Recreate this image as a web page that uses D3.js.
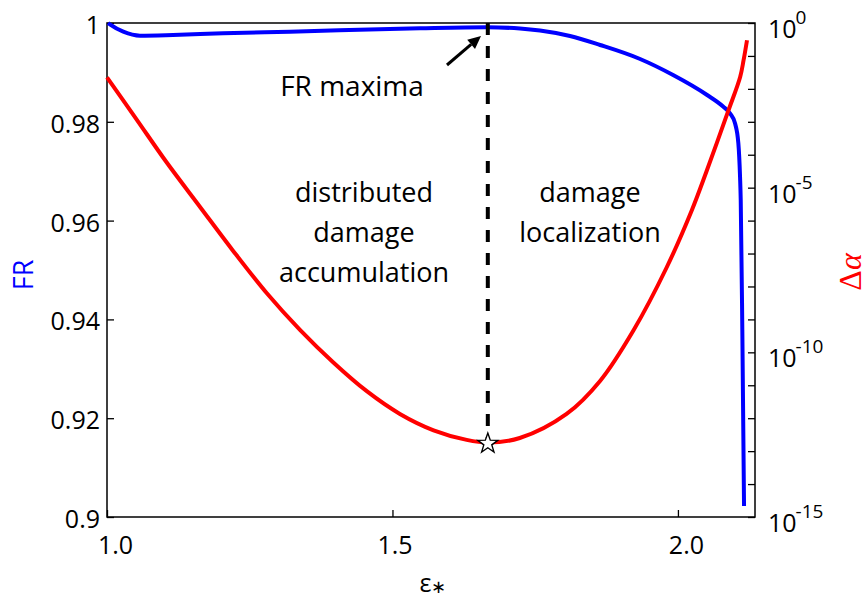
<!DOCTYPE html>
<html><head><meta charset="utf-8">
<script src="https://cdn.jsdelivr.net/npm/d3@7"></script>
<style>
html,body{margin:0;padding:0;background:#fff;}
svg{display:block;}
</style></head>
<body><svg id="c" width="868" height="598"></svg>
<script>
// ---- data ----
const xTicks = [1.0, 1.5, 2.0];
const xTickLabels = ["1.0", "1.5", "2.0"];
const frTicks = [0.9, 0.92, 0.94, 0.96, 0.98, 1.0];
const frTickLabels = ["0.9", "0.92", "0.94", "0.96", "0.98", "1"];
const daTicks = [1e0,1e-1,1e-2,1e-3,1e-4,1e-5,1e-6,1e-7,1e-8,1e-9,1e-10,1e-11,1e-12,1e-13,1e-14,1e-15];
const daLabelExps = [0, -5, -10, -15];

// FR (blue, left axis)
const epsFR = [1.002, 1.0065, 1.0285, 1.0578, 1.1156, 1.2032, 1.3205, 1.5483, 1.6656, 1.7234, 1.7584, 1.8110, 1.8636, 1.9337, 1.9915, 2.0511, 2.0791, 2.0912, 2.1000, 2.1058, 2.1088, 2.1100, 2.1128, 2.1158];
const frValues = [1.0000, 0.99960, 0.99824, 0.99743, 0.99757, 0.99792, 0.99824, 0.99893, 0.99913, 0.99889, 0.99848, 0.99737, 0.99555, 0.99271, 0.98947, 0.98543, 0.98310, 0.98172, 0.97970, 0.97571, 0.96889, 0.96417, 0.93785, 0.90223];

// Delta alpha (red, right log axis)
const epsDA = [1.000, 1.052, 1.104, 1.163, 1.221, 1.280, 1.338, 1.396, 1.455, 1.513, 1.572, 1.630, 1.667, 1.723, 1.805, 1.864, 1.922, 1.980, 2.024, 2.050, 2.088, 2.109, 2.115, 2.121];
const daValues = [2.24e-2, 1.17e-3, 6.0e-5, 2.6e-6, 1.20e-7, 6.2e-9, 4.8e-10, 5.0e-11, 6.6e-12, 1.35e-12, 4.3e-13, 2.2e-13, 1.82e-13, 2.5e-13, 1.35e-12, 1.38e-11, 4.6e-10, 3.7e-8, 2.0e-6, 3.1e-5, 2.1e-3, 2.3e-2, 7.4e-2, 0.30];

// FR maximum / transition point
const epsMax = 1.667;
const daMin = 1.82e-13;
const arrowFrom = [1.5955, 0.99150];
const arrowTo = [1.6551, 0.99737];

// ---- drawing ----
const svg = d3.select("#c");
const SANS = "'Open Sans', sans-serif";
const L = 107, R = 755, T = 23, B = 517;
const x = d3.scaleLinear().domain([1, 2.135]).range([L, R]);
const yL = d3.scaleLinear().domain([0.9, 1]).range([B, T]);
const yR = d3.scaleLog().domain([1e-15, 1]).range([B, T]);

const fs = 25;

// frame
svg.append("rect").attr("x", L).attr("y", T).attr("width", R-L).attr("height", B-T)
  .attr("fill", "none").attr("stroke", "#000").attr("stroke-width", 1.5);

// left axis
const gL = svg.append("g").attr("transform", `translate(${L},0)`)
  .call(d3.axisLeft(yL).tickValues(frTicks).tickSize(-7).tickPadding(7)
    .tickFormat((d,i)=>frTickLabels[i]));
// bottom axis
const xOffsets = [8, 2, 8];
const gB = svg.append("g").attr("transform", `translate(0,${B})`)
  .call(d3.axisBottom(x).tickValues(xTicks).tickSize(-7).tickPadding(19)
    .tickFormat((d,i)=>xTickLabels[i]));
gB.selectAll(".tick text").attr("dx", (d,i)=>xOffsets[i]);
// right axis
const gR = svg.append("g").attr("transform", `translate(${R},0)`)
  .call(d3.axisRight(yR).tickValues(daTicks).tickSize(-7).tickFormat(""));

[gL, gB, gR].forEach(g => {
  g.select(".domain").remove();
  g.selectAll(".tick line").attr("stroke", "#000").attr("stroke-width", 1.3);
  g.selectAll(".tick text").attr("font-size", fs).attr("fill", "#000")
    .style("font-family", SANS);
});
gL.selectAll(".tick text").attr("dy", "0.42em");

// right labels 10^n
daLabelExps.forEach(e => {
  const t = svg.append("text").attr("x", R + 13).attr("y", yR(Math.pow(10, e)) + 15)
    .attr("font-size", fs).attr("fill", "#000").style("font-family", SANS);
  t.append("tspan").text("10");
  t.append("tspan").attr("font-size", 19).attr("dy", -14).attr("dx", -1).text(e === 0 ? "0" : "-" + Math.abs(e));
});

// blue FR
const frData = epsFR.map((e,i)=>[e, frValues[i]]);
svg.append("path").datum(frData)
  .attr("d", d3.line().x(d=>x(d[0])).y(d=>yL(d[1])).curve(d3.curveMonotoneX))
  .attr("fill", "none").attr("stroke", "#0000ff").attr("stroke-width", 4)
  .attr("stroke-linejoin", "round").attr("stroke-linecap", "butt");

// red delta alpha
const daData = epsDA.map((e,i)=>[e, daValues[i]]);
svg.append("path").datum(daData)
  .attr("d", d3.line().x(d=>x(d[0])).y(d=>yR(d[1])).curve(d3.curveCatmullRom.alpha(0.5)))
  .attr("fill", "none").attr("stroke", "#ff0000").attr("stroke-width", 4)
  .attr("stroke-linejoin", "round");

// dashed line
svg.append("line").attr("x1", x(epsMax)).attr("x2", x(epsMax))
  .attr("y1", T).attr("y2", yR(daMin))
  .attr("stroke", "#000").attr("stroke-width", 4).attr("stroke-dasharray", "12,11");

// star
const starR = 10.5, starr = 4.2;
const starPts = d3.range(10).map(i => {
  const a = -Math.PI/2 + i*Math.PI/5;
  const r = i%2 ? starr : starR;
  return [r*Math.cos(a), r*Math.sin(a)];
});
svg.append("path").attr("d", "M" + starPts.map(p=>p.join(",")).join("L") + "Z")
  .attr("transform", `translate(${x(epsMax)},${yR(daMin)+1})`)
  .attr("fill", "#fff").attr("stroke", "#000").attr("stroke-width", 1.4);

// arrow
const ax1 = x(arrowFrom[0]), ay1 = yL(arrowFrom[1]), ax2 = x(arrowTo[0]), ay2 = yL(arrowTo[1]);
const ang = Math.atan2(ay2-ay1, ax2-ax1);
const hl = 13, hw = 6;
const bx = ax2 - hl*Math.cos(ang), by = ay2 - hl*Math.sin(ang);
svg.append("line").attr("x1", ax1).attr("y1", ay1).attr("x2", bx).attr("y2", by)
  .attr("stroke", "#000").attr("stroke-width", 3);
svg.append("path").attr("d", `M${ax2},${ay2}L${bx - hw*Math.sin(ang)},${by + hw*Math.cos(ang)}L${bx + hw*Math.sin(ang)},${by - hw*Math.cos(ang)}Z`)
  .attr("fill", "#000");

// annotation texts
function label(lines, cx, y0, size) {
  lines.forEach((s,i)=> svg.append("text").attr("x", cx).attr("y", y0 + i*40)
    .attr("text-anchor", "middle").attr("font-size", size).attr("fill", "#000")
    .style("font-family", SANS).text(s));
}
label(["FR maxima"], 352, 96, 28);
label(["distributed", "damage", "accumulation"], 364, 202, 27);
label(["damage", "localization"], 590, 202, 27);

// axis titles
svg.append("text").attr("transform", "translate(33,275) rotate(-90)")
  .attr("text-anchor", "middle").attr("font-size", 27).attr("fill", "#0000ff")
  .style("font-family", SANS).text("FR");
const dt = svg.append("text").attr("transform", "translate(861,272) rotate(-90)")
  .attr("text-anchor", "middle").attr("font-size", 32).attr("fill", "#ff0000")
  .style("font-family", "'Liberation Serif', 'DejaVu Serif', serif");
dt.append("tspan").text("Δ");
dt.append("tspan").attr("font-style", "italic").text("α");

const xl = svg.append("text").attr("x", 433).attr("y", 592).attr("text-anchor", "middle")
  .attr("font-size", 25).attr("fill", "#000").style("font-family", SANS);
xl.append("tspan").text("ε");
xl.append("tspan").attr("font-size", 18).attr("dy", 1).text("∗");
</script></body></html>
